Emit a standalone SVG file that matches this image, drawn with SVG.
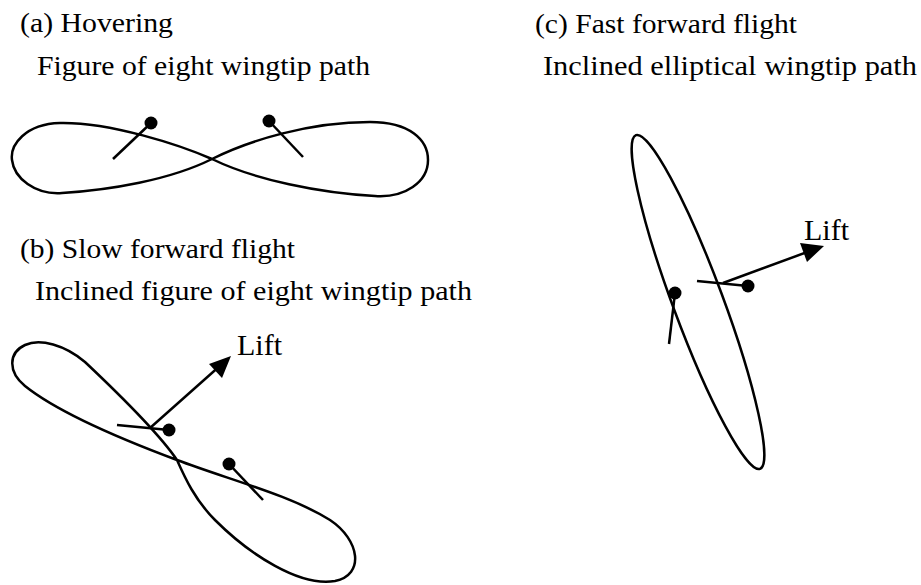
<svg xmlns="http://www.w3.org/2000/svg" width="921" height="585" viewBox="0 0 921 585">
<style>
text{font-family:'Liberation Serif','Times New Roman','DejaVu Serif',serif;font-size:27px;fill:#000}
.p{fill:none;stroke:#000;stroke-width:2.5}
.s{stroke:#000;stroke-width:2.5;fill:none}
.d{fill:#000}
</style>
<rect width="921" height="585" fill="#fff"/>
<g id="labels">
<text x="20" y="32" textLength="153" lengthAdjust="spacingAndGlyphs">(a) Hovering</text>
<text x="37" y="75" textLength="333" lengthAdjust="spacingAndGlyphs">Figure of eight wingtip path</text>
<text x="20" y="258" textLength="275" lengthAdjust="spacingAndGlyphs">(b) Slow forward flight</text>
<text x="35" y="300" textLength="437" lengthAdjust="spacingAndGlyphs">Inclined figure of eight wingtip path</text>
<text x="535" y="33" textLength="262" lengthAdjust="spacingAndGlyphs">(c) Fast forward flight</text>
<text x="543" y="75" textLength="374" lengthAdjust="spacingAndGlyphs">Inclined elliptical wingtip path</text>
</g>
<g id="path-a">
<path class="p" d="M212,159 C180,145 110,122 60,123 C25,124 10,145 12,160 C14,178 35,195 62,193 C110,190 170,180 212,159 C250,140 310,122 370,122 C410,122 428,140 428,160 C428,182 405,198 375,196 C320,193 255,180 212,159 Z"/>
</g>
<g id="wing-a1"><line class="s" x1="151" y1="123" x2="113" y2="159"/><circle class="d" cx="151" cy="123" r="6.5"/></g>
<g id="wing-a2"><line class="s" x1="269" y1="121" x2="303" y2="157"/><circle class="d" cx="269" cy="121" r="6.5"/></g>
<g id="path-b">
<path class="p" d="M177,460 C160,435 120,395 85,362 C65,345 40,338 25,345 C8,353 8,372 25,386 C55,410 110,435 177,460 C230,480 290,495 330,520 C360,540 365,575 335,581 C300,587 250,555 215,520 C195,500 185,478 177,460 Z"/>
</g>
<g id="wing-b1"><line class="s" x1="117" y1="425" x2="169" y2="430"/><circle class="d" cx="169" cy="430" r="6.5"/></g>
<g id="wing-b2"><line class="s" x1="229" y1="464" x2="263" y2="500"/><circle class="d" cx="229" cy="464" r="6.5"/></g>
<g id="path-c">
<ellipse class="p" cx="698" cy="302" rx="178" ry="25" transform="rotate(69.6 698 302)"/>
</g>
<g id="wing-c1"><line class="s" x1="675" y1="293" x2="669" y2="344"/><circle class="d" cx="675" cy="293" r="6.5"/></g>
<g id="wing-c2"><line class="s" x1="697" y1="281" x2="748" y2="286"/><circle class="d" cx="748" cy="286" r="6.5"/></g>
<g id="connectors">
<line class="s" x1="150" y1="428" x2="222" y2="364"/>
<polygon class="d" points="231,356 222,378 209,364"/>
<line class="s" x1="723" y1="283" x2="810" y2="251"/>
<polygon class="d" points="824,246 807,262 800,243"/>
</g>
<g id="lift-labels">
<text x="237" y="355" style="font-size:30px">Lift</text>
<text x="804" y="240" style="font-size:30px">Lift</text>
</g>
</svg>
